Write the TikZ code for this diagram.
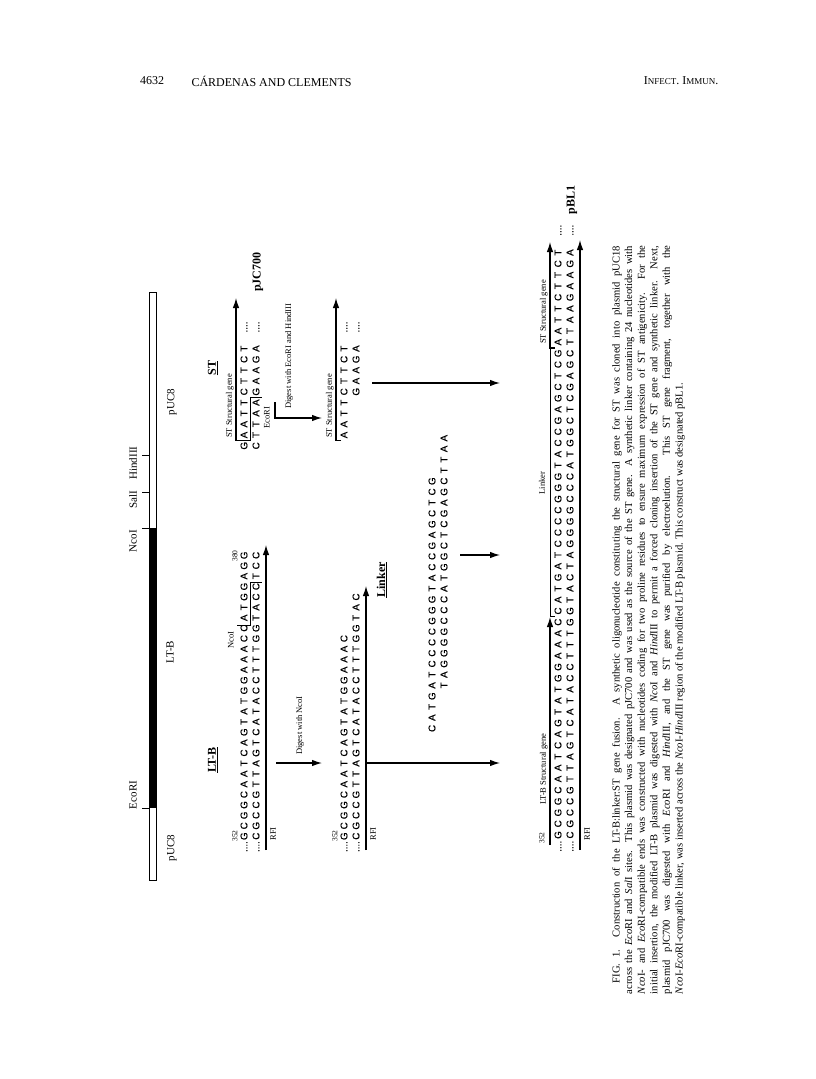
\documentclass[tikz,border=0pt]{standalone}
\usepackage{fontspec}
\setmainfont{Liberation Serif}
\newfontfamily\seqfont[FakeBold=0.6]{Liberation Sans}
\usetikzlibrary{arrows.meta}

% one box per base, '-' = empty place, '.' = the four dots
\newlength\nw
\def\dnastep#1{\ifx#1\relax\else%
  \ifx#1-\hbox to\nw{}\else%
  \ifx#1.\hbox to\nw{\hss....\hss}\else%
  \hbox to\nw{\hss#1\hss}\fi\fi%
  \expandafter\dnastep\fi}
\newcommand\dna[2][10.8pt]{\setlength\nw{#1}\dnastep#2\relax}

\begin{document}
\begin{tikzpicture}[x=1pt, y=-1pt,
    seqrow/.style={rotate=90, anchor=west, inner sep=0pt,
        font=\seqfont\fontsize{9.8}{10}\selectfont},
    tag/.style={rotate=90, inner sep=0pt, font=\fontsize{11}{12}\selectfont},
    title/.style={rotate=90, inner sep=0pt, font=\bfseries\fontsize{12}{13}\selectfont},
    note/.style={rotate=90, inner sep=1pt, font=\fontsize{8.5}{9}\selectfont},
    num/.style={rotate=90, inner sep=0pt, font=\fontsize{7.5}{8}\selectfont},
    feed/.style={line width=1.2pt, -{Latex[length=10pt,width=6.5pt]}},
    cut/.style={line width=0.9pt},
  ]
  \useasboundingbox (0,0) rectangle (816,1079);
  \fill[white] (0,0) rectangle (816,1079);

  % running head
  \node (folio) [font=\fontsize{12}{13}\selectfont] at (152,81) {4632};
  \node (authors) [anchor=west, font=\fontsize{12}{13}\selectfont] at (188,81) {CÁRDENAS AND CLEMENTS};
  \node (journal) [anchor=east, font=\fontsize{12}{13}\selectfont] at (722,81)
    {I{\fontsize{9}{10}\selectfont NFECT}. I{\fontsize{9}{10}\selectfont MMUN}.};

  % plasmid map
  \draw[line width=0.8pt] (149,292) rectangle (156,880);
  \fill (149,528) rectangle (156,808);
  \foreach \yy in {808,528,492,455}
    \draw[line width=0.8pt] (142,\yy) -- (149,\yy);
  \node (ecori) [tag] at (133,795) {EcoRI};
  \node (ncoi)  [tag] at (133,541) {NcoI};
  \node (sali)  [tag] at (133,500) {SalI};
  \node (hind)  [tag] at (133,463) {HindIII};
  \node (pucA)  [tag] at (172,848) {pUC8};
  \node (pucB)  [tag] at (172,402) {pUC8};
  \node (ltbmap) [tag] at (170,652) {LT-B};

  % LT-B, before digestion
  \node (ltbhead) [title] at (213,760) {\underline{LT-B}};
  \node (ltbTop) [seqrow] at (244,852) {\dna[10.4pt]{.GCGGCAATCAGTATGGAAACCATGGAGG}};
  \node (ltbBot) [seqrow] at (256,852) {\dna[10.4pt]{.CGCCGTTAGTCATACCTTTGGTACCTCC}};
  \node (ltbS) [num] at (235,836) {352};
  \node (ltbE) [num] at (235,556) {380};
  \node (ncosite) [num, font=\fontsize{8.5}{9}\selectfont] at (231,640) {NcoI};
  \draw[cut] (237,625.2) -- (250,625.2) -- (250,582) -- (262,582);
  \coordinate (ltbA) at (266,850);
  \coordinate (ltbB) at (266,545);
  \draw[feed] (ltbA) -- (ltbB);
  \node (rfiA) [num, font=\fontsize{8.5}{9}\selectfont] at (273,834) {RFI};

  % digestion with NcoI
  \coordinate (digA) at (276,763);
  \coordinate (digB) at (322,763);
  \draw[feed] (digA) -- (digB);
  \node (digtxt) [note, anchor=west] at (300,756) {Digest with NcoI};

  % LT-B, after digestion
  \node (cutTop) [seqrow] at (344,852) {\dna[10.4pt]{.GCGGCAATCAGTATGGAAAC}};
  \node (cutBot) [seqrow] at (356,852) {\dna[10.4pt]{.CGCCGTTAGTCATACCTTTGGTAC}};
  \node (cutS) [num] at (335,836) {352};
  \coordinate (cutA) at (366,850);
  \coordinate (cutB) at (366,586);
  \draw[feed] (cutA) -- (cutB);
  \node (rfiB) [num, font=\fontsize{8.5}{9}\selectfont] at (373,834) {RFI};

  % ST in pJC700
  \node (sthead) [title] at (213,368) {\underline{ST}};
  \node (stTop) [seqrow] at (244,451.4) {\dna{GAATTCTTCT-.}};
  \node (stBot) [seqrow] at (256,451.4) {\dna{CTTAAGAAGA-.}};
  \draw[cut] (238,440.6) -- (250,440.6) -- (250,397.4) -- (262,397.4);
  \coordinate (stA) at (241,440.6);
  \coordinate (stB) at (236,298);
  \draw[feed] (stA) -- (236,440.6) -- (stB);
  \node (stgene) [note, anchor=south west] at (235,439) {ST Structural gene};
  \node (pjc) [title] at (258,272) {pJC700};
  \node (ecosite) [num, font=\fontsize{8.5}{9}\selectfont] at (267,418) {EcoRI};

  % digestion with EcoRI and HindIII
  \coordinate (digC) at (275,402);
  \coordinate (digD) at (322,418);
  \draw[feed] (digC) -- (275,418) -- (digD);
  \node (digtxtB) [note, anchor=west] at (289,410) {Digest with EcoRI and HindIII};

  % ST fragment
  \node (stcTop) [seqrow] at (344,440.6) {\dna{AATTCTTCT-.}};
  \node (stcBot) [seqrow] at (356,440.6) {\dna{----GAAGA-.}};
  \coordinate (stcA) at (341,440.6);
  \coordinate (stcB) at (336,298);
  \draw[feed] (stcA) -- (336,440.6) -- (stcB);
  \node (stcgene) [note, anchor=south west] at (335,439) {ST Structural gene};

  % synthetic linker
  \node (lnkhead) [title] at (382,580) {\underline{Linker}};
  \node (lnkTop) [seqrow] at (432,734) {\dna[10.75pt]{CATGATCCCCGGGTACCGAGCTCG}};
  \node (lnkBot) [seqrow] at (444,734) {\dna[10.75pt]{----TAGGGGCCCATGGCTCGAGCTTAA}};

  % ligation
  \coordinate (joinA) at (365,763);
  \coordinate (joinB) at (500,763);
  \coordinate (joinC) at (460,555);
  \coordinate (joinD) at (500,555);
  \coordinate (joinE) at (372,383);
  \coordinate (joinF) at (500,383);
  \draw[feed] (joinA) -- (joinB);
  \draw[feed] (joinC) -- (joinD);
  \draw[feed] (joinE) -- (joinF);

  % pBL1
  \node (pblTop) [seqrow] at (558,852)
    {\dna[11.2pt]{.GCGGCAATCAGTATGGAAACCATGATCCCCGGGTACCGAGCTCGAATTCTTCT-.}};
  \node (pblBot) [seqrow] at (570,852)
    {\dna[11.2pt]{.CGCCGTTAGTCATACCTTTGGTACTAGGGGCCCATGGCTCGAGCTTAAGAAGA-.}};
  \node (pblS) [num] at (542,838) {352};
  \coordinate (pblA) at (550,845);
  \coordinate (pblB) at (550,617);
  \draw[feed] (pblA) -- (pblB);
  \node (pblgene) [note, anchor=south west] at (549,806) {LT-B Structural gene};
  \draw[cut] (555,616.8) -- (550,616.8) -- (550,348) -- (555,348);
  \node (pbllnk) [note] at (542,483) {Linker};
  \coordinate (pblC) at (555,348);
  \coordinate (pblD) at (550,242);
  \draw[feed] (pblC) -- (550,348) -- (pblD);
  \node (pblst) [note, anchor=south west] at (549,345) {ST Structural gene};
  \coordinate (pblE) at (580,850);
  \coordinate (pblF) at (580,240);
  \draw[feed] (pblE) -- (pblF);
  \node (rfiC) [num, font=\fontsize{8.5}{9}\selectfont] at (587,834) {RFI};
  \node (pbl) [title] at (572,200) {pBL1};

  % legend
  \node (legend) [rotate=90, inner sep=0pt, text width=748pt, align=justify,
      font=\fontsize{10.6}{12.6}\selectfont] at (648.5,620) {%
    \hspace*{1em}FIG. 1. Construction of the LT-B:linker:ST gene fusion. A synthetic oligonucleotide constituting the structural gene for ST was cloned into plasmid pUC18\linebreak
    across the \textit{Eco}RI and \textit{Sal}I sites. This plasmid was designated pJC700 and was used as the source of the ST gene. A synthetic linker containing 24 nucleotides with\linebreak
    \textit{Nco}I- and \textit{Eco}RI-compatible ends was constructed with nucleotides coding for two proline residues to ensure maximum expression of ST antigenicity. For the\linebreak
    initial insertion, the modified LT-B plasmid was digested with \textit{Nco}I and \textit{Hind}III to permit a forced cloning insertion of the ST gene and synthetic linker. Next,\linebreak
    plasmid pJC700 was digested with \textit{Eco}RI and \textit{Hind}III, and the ST gene was purified by electroelution. This ST gene fragment, together with the\linebreak
    \textit{Nco}I-\textit{Eco}RI-compatible linker, was inserted across the \textit{Nco}I-\textit{Hind}III region of the modified LT-B plasmid. This construct was designated pBL1.};
\end{tikzpicture}
\end{document}
